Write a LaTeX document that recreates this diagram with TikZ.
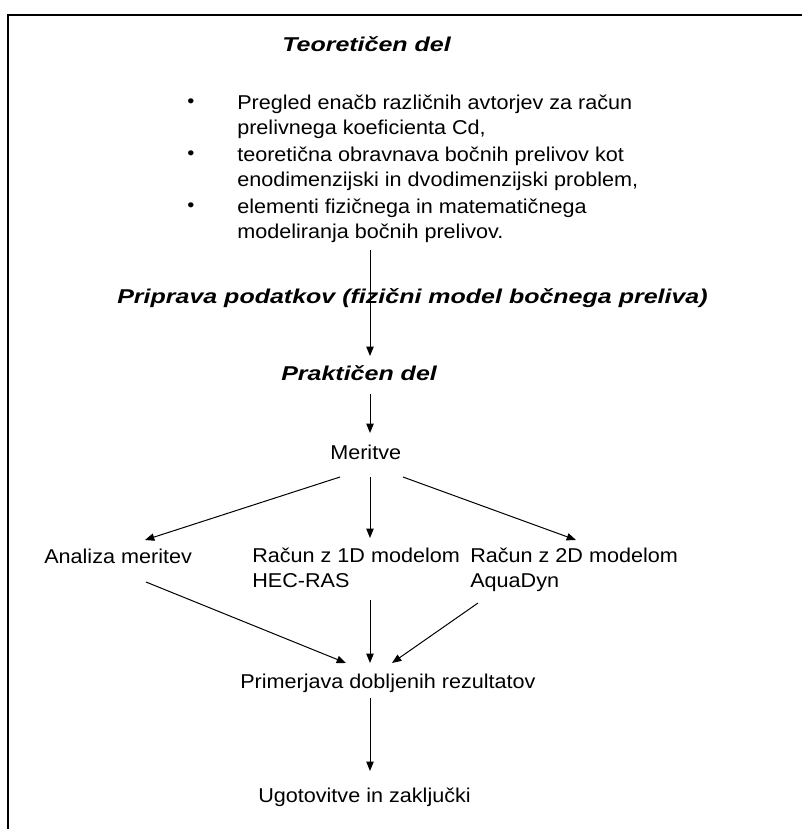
\documentclass[tikz,border=0pt]{standalone}
\usepackage{fontspec}
\setmainfont{Liberation Sans}
\newfontfamily\rgfont{Liberation Sans}[FakeStretch=1.08]
\newfontfamily\bifont{Liberation Sans}[FakeStretch=1.25]
\usetikzlibrary{arrows.meta}
\begin{document}
\begin{tikzpicture}[x=0.75pt,y=-0.75pt,
  txt/.style={inner sep=0pt,anchor=base west,font=\rgfont\fontsize{15}{18.75}\selectfont,align=left},
  head/.style={inner sep=0pt,anchor=base west,font=\bifont\fontsize{15}{18}\selectfont\bfseries\itshape},
  bul/.style={inner sep=0pt,font=\rgfont\fontsize{14}{18}\selectfont},
  arr/.style={line width=0.75pt,-{Triangle[length=7pt,width=5.5pt]}},
  frame/.style={line width=1.5pt}]
\useasboundingbox (0,0) rectangle (802,829);
% frame (top and left)
\coordinate (fa) at (802,15);
\coordinate (fb) at (8,15);
\coordinate (fc) at (8,829);
\draw[frame] (fa) -- (fb) -- (fc);

\node[head] (teo) at (282,51) {Teoretičen del};
\node[bul] (b1) at (191,103) {•};
\node[bul] (b2) at (191,155) {•};
\node[bul] (b3) at (191,207) {•};
\node[txt] (t1) at (237,134) {Pregled enačb različnih avtorjev za račun\\prelivnega koeficienta Cd,};
\node[txt] (t2) at (237,186) {teoretična obravnava bočnih prelivov kot\\enodimenzijski in dvodimenzijski problem,};
\node[txt] (t3) at (237,238) {elementi fizičnega in matematičnega\\modeliranja bočnih prelivov.};

\node[head] (prip) at (117,303) {Priprava podatkov (fizični model bočnega preliva)};
\node[head] (prak) at (281,380) {Praktičen del};
\node[txt] (mer) at (330,459) {Meritve};
\node[txt] (an) at (44,563) {Analiza meritev};
\node[txt] (r1) at (252,587) {Račun z 1D modelom\\HEC-RAS};
\node[txt] (r2) at (470,587) {Račun z 2D modelom\\AquaDyn};
\node[txt] (prim) at (240,688) {Primerjava dobljenih rezultatov};
\node[txt] (ugo) at (258,802) {Ugotovitve in zaključki};

% connector ends
\coordinate (c1s) at (370,250);
\coordinate (c1e) at (370,356);
\coordinate (c2s) at (370,394);
\coordinate (c2e) at (370,433);
\coordinate (m1) at (340,477);
\coordinate (m2) at (370,477);
\coordinate (m3) at (403,477);
\coordinate (a1) at (145,540);
\coordinate (a2) at (370,538);
\coordinate (a3) at (576,540);
\coordinate (d1) at (146,582);
\coordinate (d2) at (370,600);
\coordinate (d3) at (478,603);
\coordinate (e1) at (346,663);
\coordinate (e2) at (370,663);
\coordinate (e3) at (392,663);
\coordinate (f1) at (370,698);
\coordinate (f2) at (370,771);

\draw[arr] (c1s) -- (c1e);
\draw[arr] (c2s) -- (c2e);
\draw[arr] (m1) -- (a1);
\draw[arr] (m2) -- (a2);
\draw[arr] (m3) -- (a3);
\draw[arr] (d1) -- (e1);
\draw[arr] (d2) -- (e2);
\draw[arr] (d3) -- (e3);
\draw[arr] (f1) -- (f2);
\end{tikzpicture}
\end{document}
